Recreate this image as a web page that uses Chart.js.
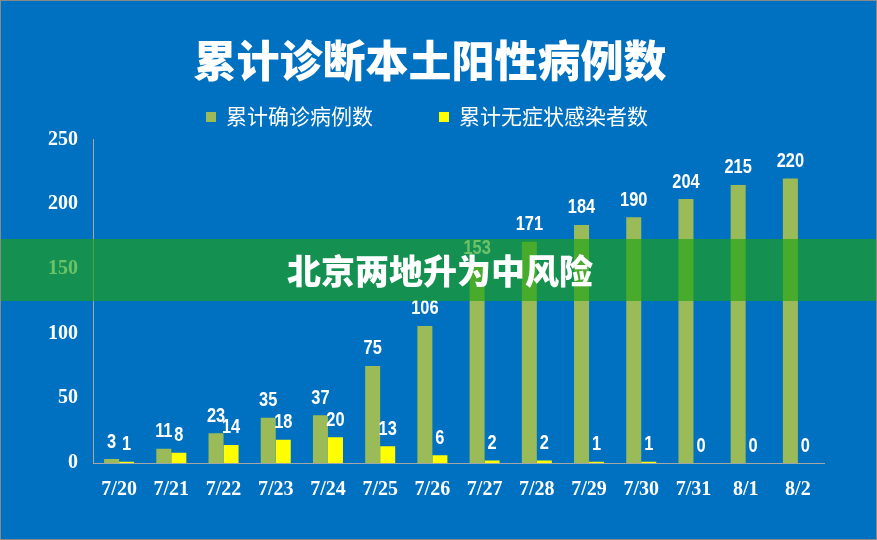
<!DOCTYPE html>
<html>
<head>
<meta charset="utf-8">
<script src="https://cdn.jsdelivr.net/npm/chart.js@4.4.1/dist/chart.umd.min.js"></script>
<style>
  html,body{margin:0;padding:0;background:#0070c0;}
  #wrap{width:877px;height:540px;position:relative;}
</style>
</head>
<body>
<div id="wrap"><canvas id="c" width="877" height="540"></canvas></div>
<script>
const days = ['7/20','7/21','7/22','7/23','7/24','7/25','7/26','7/27','7/28','7/29','7/30','7/31','8/1','8/2'];
const confirmed = [3, 11, 23, 35, 37, 75, 106, 153, 171, 184, 190, 204, 215, 220];
const asymptomatic = [1, 8, 14, 18, 20, 13, 6, 2, 2, 1, 1, 0, 0, 0];
const seriesNames = ['累计确诊病例数', '累计无症状感染者数'];
const yTicks = [0, 50, 100, 150, 200, 250];

const titleText = '累计诊断本土阳性病例数';
const bannerText = '北京两地升为中风险';

const BG = '#0070c0';
const GREEN = '#9bbb59';
const YELLOW = '#ffff00';
const CJK = '"Noto Sans CJK SC", "Noto Sans", sans-serif';
const SERIF = '"Liberation Serif", "Times New Roman", serif';
const SANS = '"Liberation Sans", Arial, sans-serif';

// background
const backdrop = {
  id:'backdrop',
  beforeDraw(chart){
    const c=chart.ctx;
    c.save(); c.fillStyle=BG; c.fillRect(0,0,chart.width,chart.height); c.restore();
  }
};

// numbers above bars, squeezed sideways to look condensed
const barLabels = {
  id:'barLabels',
  afterDatasetsDraw(chart){
    const c=chart.ctx;
    const sx=0.82;
    c.save();
    c.fillStyle='#fff';
    c.font='bold 20px '+SANS;
    c.textAlign='center'; c.textBaseline='middle';
    chart.data.datasets.forEach((ds,i)=>{
      chart.getDatasetMeta(i).data.forEach((bar,j)=>{
        c.save();
        c.translate(bar.x, bar.y-17);
        c.scale(sx,1);
        c.fillText(String(ds.data[j]), 0, 0);
        c.restore();
      });
    });
    c.restore();
  }
};

// legend row drawn by hand (wide gap between the two items)
const wideLegend = {
  id:'wideLegend',
  afterDraw(chart){
    const c=chart.ctx;
    c.save();
    c.font='21px '+CJK;
    const box=10, gapText=10, gapItem=66;
    const w = chart.data.datasets.map(d=>c.measureText(d.label).width);
    const total = box+gapText+w[0]+gapItem+box+gapText+w[1];
    let x = 427 - total/2;
    const y = 116;
    c.textBaseline='middle'; c.textAlign='left';
    chart.data.datasets.forEach((d,i)=>{
      c.fillStyle=d.backgroundColor;
      c.fillRect(x, y-4, box, box);
      c.fillStyle='#fff';
      c.fillText(d.label, x+box+gapText, y);
      x += box+gapText+w[i]+gapItem;
    });
    c.restore();
  }
};

// green strip across the middle + frame
const banner = {
  id:'banner',
  afterDraw(chart){
    const c=chart.ctx;
    c.save();
    c.fillStyle='rgba(31,162,21,0.655)';
    c.fillRect(0,239,chart.width,62);
    c.fillStyle='#fff';
    c.font='900 34px '+CJK;
    c.textAlign='center'; c.textBaseline='middle';
    c.fillText(bannerText, 440, 271);
    c.strokeStyle='#8a8a8a'; c.lineWidth=2;
    c.strokeRect(0,0,chart.width,chart.height);
    c.restore();
  }
};

new Chart(document.getElementById('c'), {
  type:'bar',
  data:{
    labels: days,
    datasets:[
      {label:seriesNames[0], data:confirmed, backgroundColor:GREEN, categoryPercentage:0.575, barPercentage:1},
      {label:seriesNames[1], data:asymptomatic, backgroundColor:YELLOW, categoryPercentage:0.575, barPercentage:1}
    ]
  },
  options:{
    responsive:false,
    animation:false,
    layout:{ padding:{ left:36, right:53, top:0, bottom:23 } },
    plugins:{
      legend:{ display:false },
      tooltip:{ enabled:false },
      title:{
        display:true, text:titleText, color:'#fff',
        font:{ family:CJK, size:43, weight:'900' },
        padding:{ top:35, bottom:53 }
      }
    },
    scales:{
      x:{
        grid:{ display:false, drawTicks:false },
        border:{ display:true, color:'#a6a6a6', width:1 },
        ticks:{ color:'#fff', padding:15, font:{ family:SERIF, size:20, weight:'bold' } }
      },
      y:{
        min:0, max:250,
        afterFit(s){ s.width = 57; },
        afterBuildTicks(s){ s.ticks = yTicks.map(v=>({value:v})); },
        grid:{ display:false, drawTicks:false },
        border:{ display:true, color:'#a6a6a6', width:1 },
        ticks:{ color:'#fff', padding:15, font:{ family:SERIF, size:20, weight:'bold' } }
      }
    }
  },
  plugins:[backdrop, barLabels, wideLegend, banner]
});
</script>
</body>
</html>
